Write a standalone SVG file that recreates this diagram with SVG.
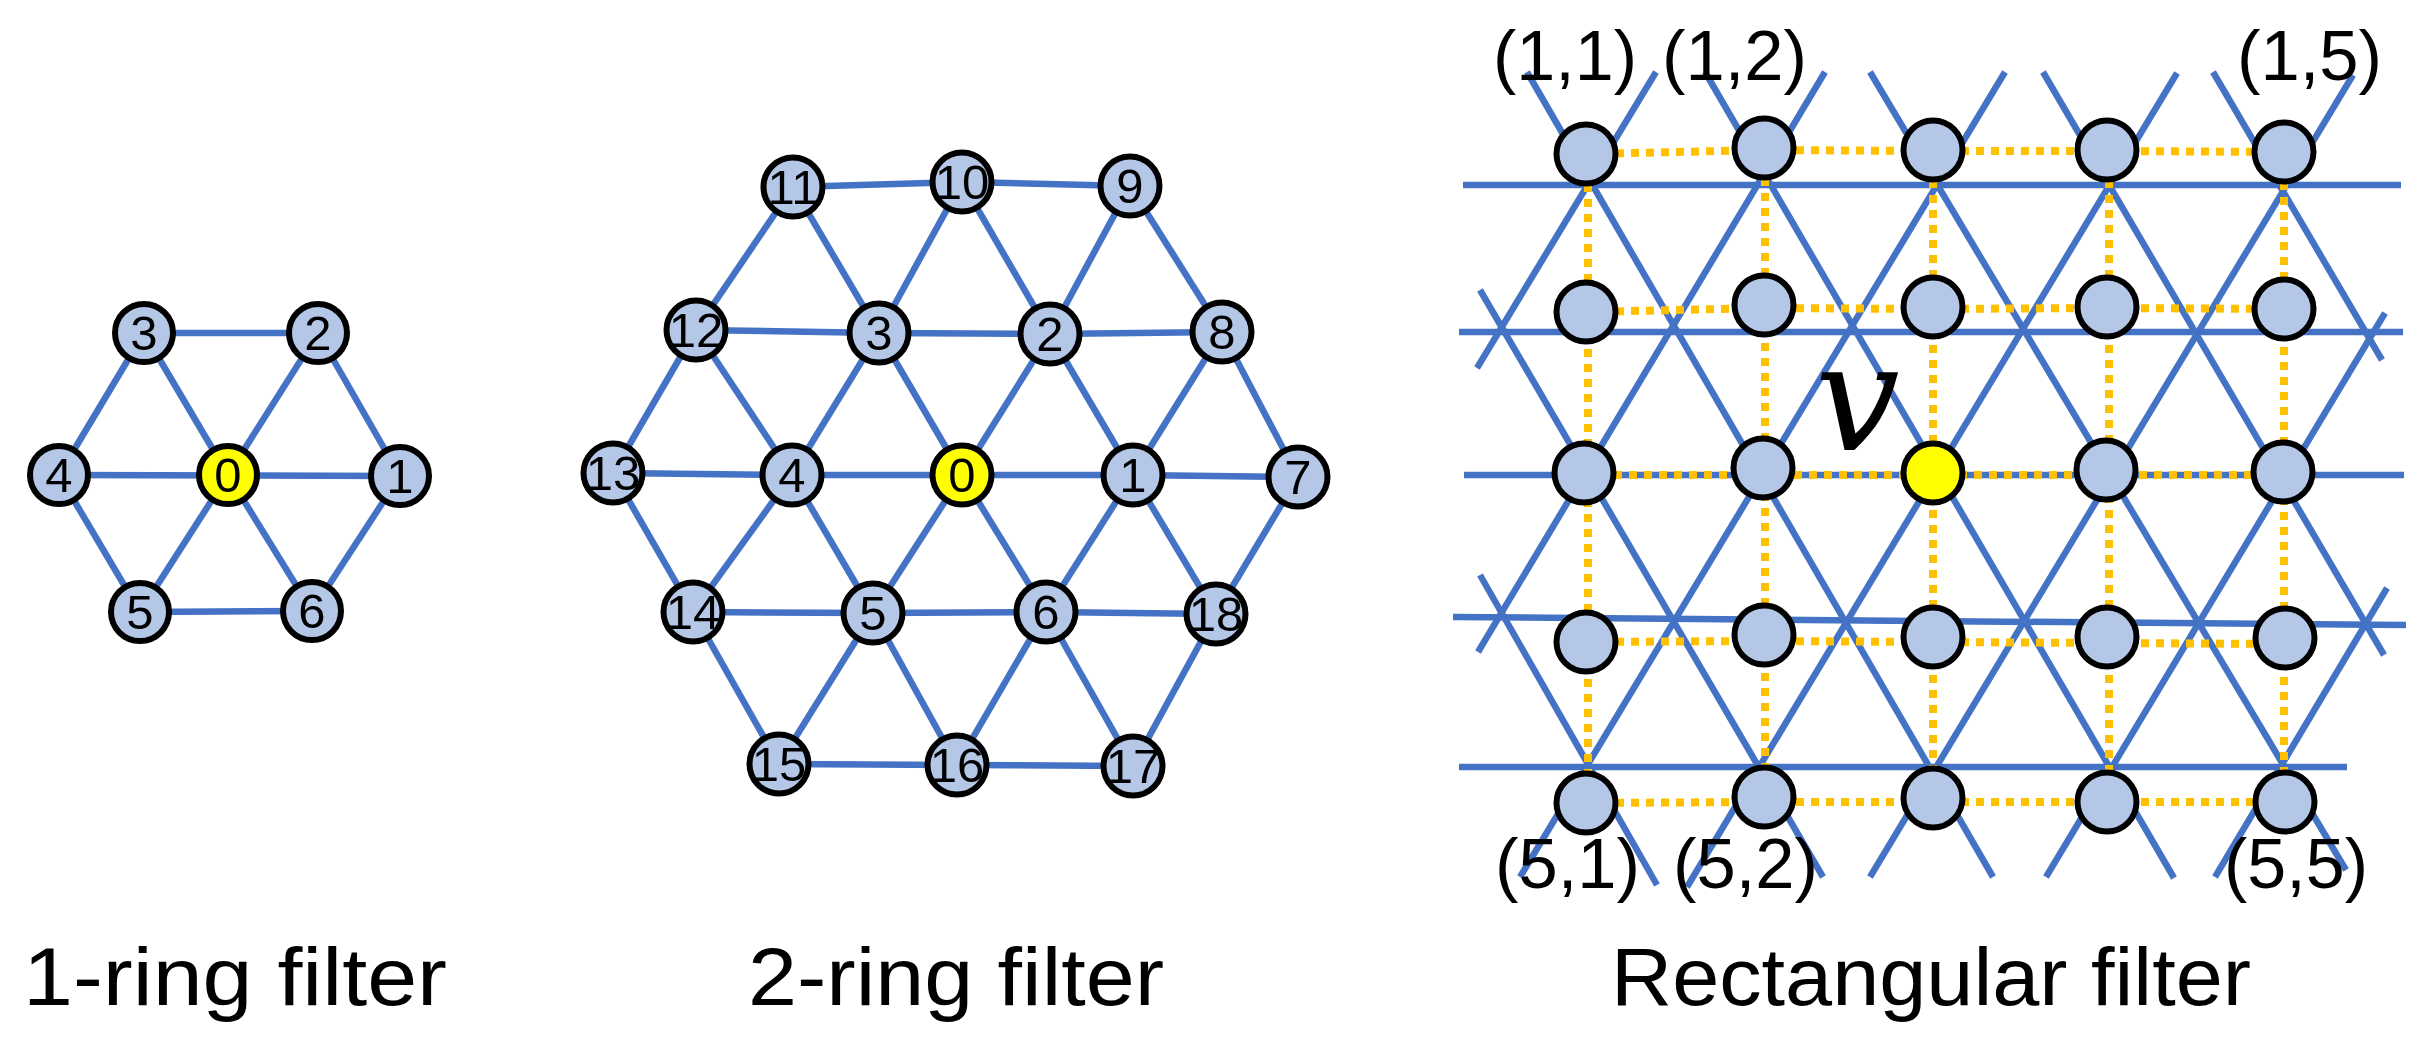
<svg xmlns="http://www.w3.org/2000/svg" width="2418" height="1039" viewBox="0 0 2418 1039">
<style>
.e{stroke:#4472C4;stroke-width:6.5;fill:none;stroke-linecap:butt}
.r{stroke:#4472C4;stroke-width:6.5;fill:none}
.d{stroke:#FFC000;stroke-width:8;stroke-dasharray:8 7;fill:none}
.n{fill:#B4C7E7;stroke:#000;stroke-width:6}
.y{fill:#FFFF00;stroke:#000;stroke-width:6}
.t{font-family:"Liberation Sans",Arial,sans-serif;font-size:49px;text-anchor:middle;fill:#000}
.c{font-family:"Liberation Sans",Arial,sans-serif;font-size:70px;fill:#000}
.cap{font-family:"Liberation Sans",Arial,sans-serif;font-size:82px;fill:#000}
</style>
<rect width="2418" height="1039" fill="#fff"/>

<!-- 1-ring connectors -->
<g id="ring1-edges" class="e">
<line x1="144" y1="333" x2="318" y2="333"/>
<line x1="59" y1="475" x2="400" y2="476"/>
<line x1="140" y1="612" x2="312" y2="611"/>
<line x1="144" y1="333" x2="59" y2="475"/>
<line x1="144" y1="333" x2="228" y2="475"/>
<line x1="318" y1="333" x2="228" y2="475"/>
<line x1="318" y1="333" x2="400" y2="476"/>
<line x1="59" y1="475" x2="140" y2="612"/>
<line x1="228" y1="475" x2="140" y2="612"/>
<line x1="228" y1="475" x2="312" y2="611"/>
<line x1="400" y1="476" x2="312" y2="611"/>
</g>
<g id="r1-n0"><circle class="y" cx="228" cy="475" r="29"/><text class="t" x="228" y="492">0</text></g>
<g id="r1-n1"><circle class="n" cx="400" cy="476" r="29"/><text class="t" x="400" y="493">1</text></g>
<g id="r1-n2"><circle class="n" cx="318" cy="333" r="29"/><text class="t" x="318" y="350">2</text></g>
<g id="r1-n3"><circle class="n" cx="144" cy="333" r="29"/><text class="t" x="144" y="350">3</text></g>
<g id="r1-n4"><circle class="n" cx="59" cy="475" r="29"/><text class="t" x="59" y="492">4</text></g>
<g id="r1-n5"><circle class="n" cx="140" cy="612" r="29"/><text class="t" x="140" y="629">5</text></g>
<g id="r1-n6"><circle class="n" cx="312" cy="611" r="29"/><text class="t" x="312" y="628">6</text></g>

<!-- 2-ring connectors -->
<g id="ring2-edges" class="e">
<line x1="793" y1="187" x2="962" y2="182"/><line x1="962" y1="182" x2="1130" y2="186"/>
<line x1="696" y1="330" x2="879" y2="333"/><line x1="879" y1="333" x2="1050" y2="334"/><line x1="1050" y1="334" x2="1222" y2="332"/>
<line x1="613" y1="473" x2="792" y2="475"/><line x1="792" y1="475" x2="962" y2="475"/><line x1="962" y1="475" x2="1133" y2="475"/><line x1="1133" y1="475" x2="1298" y2="477"/>
<line x1="693" y1="612" x2="873" y2="613"/><line x1="873" y1="613" x2="1046" y2="612"/><line x1="1046" y1="612" x2="1216" y2="614"/>
<line x1="779" y1="764" x2="957" y2="765"/><line x1="957" y1="765" x2="1133" y2="766"/>
<line x1="793" y1="187" x2="696" y2="330"/><line x1="793" y1="187" x2="879" y2="333"/>
<line x1="962" y1="182" x2="879" y2="333"/><line x1="962" y1="182" x2="1050" y2="334"/>
<line x1="1130" y1="186" x2="1050" y2="334"/><line x1="1130" y1="186" x2="1222" y2="332"/>
<line x1="696" y1="330" x2="613" y2="473"/><line x1="696" y1="330" x2="792" y2="475"/>
<line x1="879" y1="333" x2="792" y2="475"/><line x1="879" y1="333" x2="962" y2="475"/>
<line x1="1050" y1="334" x2="962" y2="475"/><line x1="1050" y1="334" x2="1133" y2="475"/>
<line x1="1222" y1="332" x2="1133" y2="475"/><line x1="1222" y1="332" x2="1298" y2="477"/>
<line x1="613" y1="473" x2="693" y2="612"/><line x1="792" y1="475" x2="693" y2="612"/>
<line x1="792" y1="475" x2="873" y2="613"/><line x1="962" y1="475" x2="873" y2="613"/>
<line x1="962" y1="475" x2="1046" y2="612"/><line x1="1133" y1="475" x2="1046" y2="612"/>
<line x1="1133" y1="475" x2="1216" y2="614"/><line x1="1298" y1="477" x2="1216" y2="614"/>
<line x1="693" y1="612" x2="779" y2="764"/><line x1="873" y1="613" x2="779" y2="764"/>
<line x1="873" y1="613" x2="957" y2="765"/><line x1="1046" y1="612" x2="957" y2="765"/>
<line x1="1046" y1="612" x2="1133" y2="766"/><line x1="1216" y1="614" x2="1133" y2="766"/>
</g>
<g id="r2-n0"><circle class="y" cx="962" cy="475" r="29.5"/><text class="t" x="962" y="492">0</text></g>
<g id="r2-n1"><circle class="n" cx="1133" cy="475" r="29.5"/><text class="t" x="1133" y="492">1</text></g>
<g id="r2-n2"><circle class="n" cx="1050" cy="334" r="29.5"/><text class="t" x="1050" y="351">2</text></g>
<g id="r2-n3"><circle class="n" cx="879" cy="333" r="29.5"/><text class="t" x="879" y="350">3</text></g>
<g id="r2-n4"><circle class="n" cx="792" cy="475" r="29.5"/><text class="t" x="792" y="492">4</text></g>
<g id="r2-n5"><circle class="n" cx="873" cy="613" r="29.5"/><text class="t" x="873" y="630">5</text></g>
<g id="r2-n6"><circle class="n" cx="1046" cy="612" r="29.5"/><text class="t" x="1046" y="629">6</text></g>
<g id="r2-n7"><circle class="n" cx="1298" cy="477" r="29.5"/><text class="t" x="1298" y="494">7</text></g>
<g id="r2-n8"><circle class="n" cx="1222" cy="332" r="29.5"/><text class="t" x="1222" y="349">8</text></g>
<g id="r2-n9"><circle class="n" cx="1130" cy="186" r="29.5"/><text class="t" x="1130" y="203">9</text></g>
<g id="r2-n10"><circle class="n" cx="962" cy="182" r="29.5"/><text class="t" x="962" y="199">10</text></g>
<g id="r2-n11"><circle class="n" cx="793" cy="187" r="29.5"/><text class="t" x="793" y="204">11</text></g>
<g id="r2-n12"><circle class="n" cx="696" cy="330" r="29.5"/><text class="t" x="696" y="347">12</text></g>
<g id="r2-n13"><circle class="n" cx="613" cy="473" r="29.5"/><text class="t" x="613" y="490">13</text></g>
<g id="r2-n14"><circle class="n" cx="693" cy="612" r="29.5"/><text class="t" x="693" y="629">14</text></g>
<g id="r2-n15"><circle class="n" cx="779" cy="764" r="29.5"/><text class="t" x="779" y="781">15</text></g>
<g id="r2-n16"><circle class="n" cx="957" cy="765" r="29.5"/><text class="t" x="957" y="782">16</text></g>
<g id="r2-n17"><circle class="n" cx="1133" cy="766" r="29.5"/><text class="t" x="1133" y="783">17</text></g>
<g id="r2-n18"><circle class="n" cx="1216" cy="614" r="29.5"/><text class="t" x="1216" y="631">18</text></g>

<!-- Rectangular filter: lattice lines -->
<g id="rect-lattice" class="r">
<line x1="1463" y1="185" x2="2401" y2="185"/>
<line x1="1459" y1="332" x2="2403" y2="332"/>
<line x1="1464" y1="475" x2="2404" y2="475"/>
<line x1="1453" y1="617" x2="2406" y2="625"/>
<line x1="1459" y1="767" x2="2347" y2="767"/>
<line x1="1477" y1="368" x2="1656" y2="72"/>
<line x1="1478" y1="652" x2="1825" y2="72"/>
<line x1="1520" y1="877" x2="2005" y2="72"/>
<line x1="1687" y1="887" x2="2177" y2="73"/>
<line x1="1870" y1="877" x2="2353" y2="75"/>
<line x1="2046" y1="877" x2="2385" y2="313"/>
<line x1="2215" y1="877" x2="2387" y2="588"/>
<line x1="1527" y1="72" x2="1993" y2="877"/>
<line x1="1480" y1="290" x2="1823" y2="877"/>
<line x1="1480" y1="575" x2="1657" y2="885"/>
<line x1="1705" y1="72" x2="2174" y2="878"/>
<line x1="1870" y1="72" x2="2346" y2="870"/>
<line x1="2043" y1="72" x2="2384" y2="655"/>
<line x1="2213" y1="72" x2="2382" y2="360"/>
</g>
<!-- Rectangular filter: dotted grid connectors -->
<g id="rect-grid" class="d">
<polyline points="1586,154 1764,150 1933,151 2107,151 2284,152"/>
<polyline points="1586,312 1764,308 1933,309 2107,308 2284,309"/>
<polyline points="1584,475 1763,475 1933,475 2106,475 2283,475"/>
<polyline points="1586,642 1764,641 1933,642 2107,643 2285,644"/>
<polyline points="1586,803 1764,802 1933,802 2107,802 2285,802"/>
<polyline points="1588,154 1588,803"/>
<polyline points="1765,148 1765,797"/>
<polyline points="1933,150 1933,798"/>
<polyline points="2109,150 2109,802"/>
<polyline points="2284,152 2284,802"/>
</g>
<g id="rect-nodes">
<g id="g11"><circle class="n" cx="1586" cy="154" r="29.5"/></g>
<g id="g12"><circle class="n" cx="1764" cy="148" r="29.5"/></g>
<g id="g13"><circle class="n" cx="1933" cy="150" r="29.5"/></g>
<g id="g14"><circle class="n" cx="2107" cy="150" r="29.5"/></g>
<g id="g15"><circle class="n" cx="2284" cy="152" r="29.5"/></g>
<g id="g21"><circle class="n" cx="1586" cy="312" r="29.5"/></g>
<g id="g22"><circle class="n" cx="1764" cy="305" r="29.5"/></g>
<g id="g23"><circle class="n" cx="1933" cy="307" r="29.5"/></g>
<g id="g24"><circle class="n" cx="2107" cy="307" r="29.5"/></g>
<g id="g25"><circle class="n" cx="2284" cy="309" r="29.5"/></g>
<g id="g31"><circle class="n" cx="1584" cy="473" r="29.5"/></g>
<g id="g32"><circle class="n" cx="1763" cy="468" r="29.5"/></g>
<g id="g33"><circle class="y" cx="1933" cy="473" r="29.5"/></g>
<g id="g34"><circle class="n" cx="2106" cy="470" r="29.5"/></g>
<g id="g35"><circle class="n" cx="2283" cy="472" r="29.5"/></g>
<g id="g41"><circle class="n" cx="1586" cy="642" r="29.5"/></g>
<g id="g42"><circle class="n" cx="1764" cy="635" r="29.5"/></g>
<g id="g43"><circle class="n" cx="1933" cy="637" r="29.5"/></g>
<g id="g44"><circle class="n" cx="2107" cy="637" r="29.5"/></g>
<g id="g45"><circle class="n" cx="2285" cy="638" r="29.5"/></g>
<g id="g51"><circle class="n" cx="1586" cy="803" r="29.5"/></g>
<g id="g52"><circle class="n" cx="1764" cy="797" r="29.5"/></g>
<g id="g53"><circle class="n" cx="1933" cy="798" r="29.5"/></g>
<g id="g54"><circle class="n" cx="2107" cy="802" r="29.5"/></g>
<g id="g55"><circle class="n" cx="2285" cy="802" r="29.5"/></g>
</g>
<g id="rect-labels">
<text class="c" x="1493" y="80" textLength="144" lengthAdjust="spacingAndGlyphs">(1,1)</text>
<text class="c" x="1662" y="80" textLength="145" lengthAdjust="spacingAndGlyphs">(1,2)</text>
<text class="c" x="2237" y="80" textLength="145" lengthAdjust="spacingAndGlyphs">(1,5)</text>
<text class="c" x="1495" y="888" textLength="145" lengthAdjust="spacingAndGlyphs">(5,1)</text>
<text class="c" x="1673" y="888" textLength="145" lengthAdjust="spacingAndGlyphs">(5,2)</text>
<text class="c" x="2224" y="888" textLength="144" lengthAdjust="spacingAndGlyphs">(5,5)</text>
<text x="1815" y="450" font-family="'DejaVu Serif','Liberation Serif',serif" font-style="italic" font-size="150">v</text>
</g>
<g id="captions">
<text class="cap" x="23" y="1005" textLength="424" lengthAdjust="spacingAndGlyphs">1-ring filter</text>
<text class="cap" x="748" y="1005" textLength="416" lengthAdjust="spacingAndGlyphs">2-ring filter</text>
<text class="cap" x="1611" y="1005" textLength="640" lengthAdjust="spacingAndGlyphs">Rectangular filter</text>
</g>
</svg>
